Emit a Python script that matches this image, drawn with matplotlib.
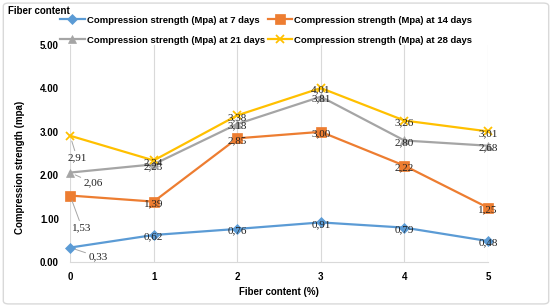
import matplotlib.pyplot as plt
from matplotlib.patches import FancyBboxPatch

plt.rcParams['font.family'] = ['Liberation Sans', 'DejaVu Sans']

# data
fiber = [0, 1, 2, 3, 4, 5]
days_7 = [0.33, 0.62, 0.76, 0.91, 0.79, 0.48]
days_14 = [1.53, 1.39, 2.85, 3.00, 2.22, 1.25]
days_21 = [2.06, 2.25, 3.18, 3.81, 2.80, 2.68]
days_28 = [2.91, 2.34, 3.38, 4.01, 3.26, 3.01]
series_names = ['Compression strength (Mpa) at 7 days',
                'Compression strength (Mpa) at 14 days',
                'Compression strength (Mpa) at 21 days',
                'Compression strength (Mpa) at 28 days']
yticks = [0, 1, 2, 3, 4, 5]

colors = ['#5B9BD5', '#ED7D31', '#A5A5A5', '#FFC000']
markers = ['D', 's', '^', 'x']
msizes = [5, 7, 5.5, 6]

fig = plt.figure(figsize=(5.52, 3.07), dpi=100)
ax = fig.add_axes([0.127, 0.147, 0.757, 0.706])

series = [days_7, days_14, days_21, days_28]
handles = []
for vals, c, m, ms, name in zip(series, colors, markers, msizes, series_names):
    h, = ax.plot(fiber, vals, color=c, lw=1.6, marker=m, markersize=ms,
                 markeredgewidth=1.3 if m == 'x' else 0.5, markeredgecolor=c,
                 label=name, zorder=3, clip_on=False)
    handles.append(h)

# data labels (comma decimals, serif)
lab_font = dict(family='Liberation Serif', fontsize=8, color='#222222')
# offsets (points) of the x=0 labels, which have leader lines
first_offsets = [(20, -6.7), (8.6, -23.3), (16.6, -7.5), (5, -16)]
for vals, off in zip(series, first_offsets):
    for i, v in enumerate(vals):
        txt = f'{v:.2f}'.replace('.', ',')
        if i == 0:
            ax.annotate(txt, (fiber[i], v), xytext=off, textcoords='offset points',
                        ha='center', va='center', zorder=5,
                        arrowprops=dict(arrowstyle='-', color='#A6A6A6', lw=0.7,
                                        shrinkA=0, shrinkB=4),
                        **lab_font)
        else:
            ax.annotate(txt, (fiber[i], v), xytext=(0, -1.5), textcoords='offset points',
                        ha='center', va='center', zorder=5, **lab_font)

ax.set_xlim(0, 5)
ax.set_ylim(0, 5)
ax.set_xticks(fiber)
ax.set_yticks(yticks)
ax.set_yticklabels([f'{t:.2f}' for t in yticks])
ax.tick_params(length=0, labelsize=7)
ax.tick_params(axis='x', pad=7)
ax.tick_params(axis='y', pad=8)
for lbl in ax.get_xticklabels() + ax.get_yticklabels():
    lbl.set_fontweight('bold')
ax.grid(axis='x', color='#D9D9D9', lw=0.8)
ax.set_axisbelow(True)
for s in ['top', 'right', 'left']:
    ax.spines[s].set_visible(False)
ax.spines['bottom'].set_color('#D9D9D9')
ax.spines['bottom'].set_linewidth(0.8)

ax.set_xlabel('Fiber content (%)', fontsize=7, fontweight='bold', labelpad=4)
ax.set_ylabel('Compression strength (mpa)', fontsize=7, fontweight='bold')
ax.yaxis.set_label_coords(-0.108, 0.438)

fig.text(0.015, 0.963, 'Fiber content', fontsize=7, fontweight='bold', va='center')

# column-major fill: 7 & 21 days in the first column, 14 & 28 in the second
order = [0, 2, 1, 3]
fig.legend(handles=[handles[i] for i in order], loc='center', bbox_to_anchor=(0.482, 0.902),
           ncol=2, frameon=False,
           prop=dict(family=['Liberation Sans Narrow', 'Liberation Sans'], size=6.8, weight='bold'),
           handlelength=2.6, handletextpad=0.2, columnspacing=0.3, labelspacing=1.15)

border = FancyBboxPatch((0.006, 0.01), 0.988, 0.98, boxstyle='round,pad=0,rounding_size=0.01',
                        transform=fig.transFigure, fill=False, edgecolor='#D9D9D9', lw=1)
fig.patches.append(border)

fig.savefig('out.png', dpi=100)
